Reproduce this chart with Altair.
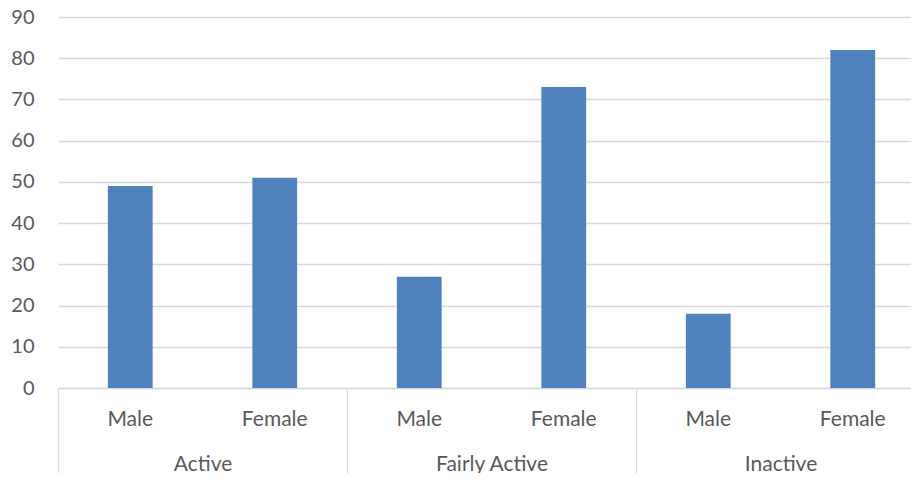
import altair as alt
import pandas as pd

groups = ["Active", "Active", "Fairly Active", "Fairly Active", "Inactive", "Inactive"]
genders = ["Male", "Female", "Male", "Female", "Male", "Female"]
values = [49, 51, 27, 73, 18, 82]
group_names = ["Active", "Fairly Active", "Inactive"]
y_ticks = [0, 10, 20, 30, 40, 50, 60, 70, 80, 90]

df = pd.DataFrame({"group": groups, "gender": genders, "value": values})
df["key"] = df["group"] + "|" + df["gender"]
keys = list(df["key"])

FONT = "Lato"
GREY = "#595959"
LINE = "#d9d9d9"
RANGE = [0, 867]

yenc = alt.Y(
    "value:Q",
    scale=alt.Scale(domain=[0, 90]),
    axis=alt.Axis(
        values=y_ticks, title=None, domain=False, ticks=False, labelPadding=24,
        gridColor=LINE, gridWidth=1.3, labelColor=GREY, labelFont=FONT, labelFontSize=20,
    ),
)

bars = alt.Chart(df).mark_bar(color="#4f81bd").encode(
    x=alt.X(
        "key:N", sort=keys,
        scale=alt.Scale(range=RANGE, paddingInner=0.69, paddingOuter=0.345),
        axis=alt.Axis(
            orient="bottom",
            title=None, labelExpr="split(datum.value, '|')[1]", labelAngle=0, ticks=False,
            domainColor=LINE, domainWidth=1.3, labelPadding=20, labelColor=GREY,
            labelFont=FONT, labelFontSize=21,
        ),
    ),
    y=yenc,
)

group_layer = alt.Chart(df).mark_point(opacity=0).encode(
    x=alt.X(
        "group:N", sort=group_names,
        scale=alt.Scale(range=RANGE, paddingInner=0, paddingOuter=0),
        axis=alt.Axis(
            orient="bottom",
            title=None, tickBand="extent", tickSize=85, tickColor=LINE, tickWidth=1.3,
            domain=False, labelAngle=0, labelPadding=-20, labelColor=GREY,
            labelFont=FONT, labelFontSize=21,
        ),
    ),
    y=alt.Y("value:Q"),
)

chart = (
    alt.layer(bars, group_layer)
    .resolve_scale(x="independent")
    .properties(
        width=853, height=371,
        autosize=alt.AutoSizeParams(type="none"),
        padding={"left": 50, "top": 9, "right": 0, "bottom": 85},
    )
    .configure_view(stroke=None)
)

chart.save("out.html", embed_options={"renderer": "svg", "actions": False})
